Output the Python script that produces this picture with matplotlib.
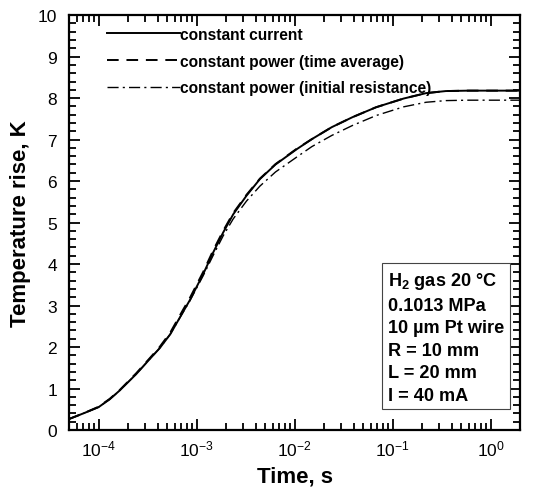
import matplotlib
matplotlib.use("Agg")
import matplotlib.pyplot as plt
import numpy as np
from matplotlib.ticker import LogLocator, MultipleLocator, NullFormatter

plt.rcParams['font.family'] = ['Liberation Sans', 'DejaVu Sans']
plt.rcParams['mathtext.fontset'] = 'custom'
plt.rcParams['mathtext.rm'] = 'Liberation Sans'
plt.rcParams['mathtext.bf'] = 'Liberation Sans:bold'
plt.rcParams['mathtext.it'] = 'Liberation Sans:italic'

# time, s
t = [5e-5, 7e-5, 1e-4, 1.3e-4, 1.64e-4, 2.43e-4, 3.33e-4, 4.2e-4, 5.4e-4, 7.3e-4,
     8.5e-4, 1.17e-3, 1.48e-3, 1.87e-3, 2.37e-3, 3.24e-3, 4.44e-3, 6.4e-3,
     1.04e-2, 1.5e-2, 2.4e-2, 3.9e-2, 6.8e-2, 0.13, 0.22, 0.35, 0.6, 1.0, 2.0]
# constant current
T_cc = [0.265, 0.40, 0.55, 0.74, 0.95, 1.35, 1.71, 1.97, 2.31, 2.85,
        3.12, 3.76, 4.28, 4.76, 5.20, 5.65, 6.05, 6.40,
        6.76, 7.01, 7.30, 7.54, 7.78, 7.99, 8.12, 8.17, 8.18, 8.18, 8.18]
# constant power (time average)
T_ta = [0.265, 0.40, 0.56, 0.75, 0.96, 1.37, 1.73, 2.00, 2.35, 2.90,
        3.17, 3.81, 4.33, 4.80, 5.23, 5.67, 6.06, 6.41,
        6.77, 7.01, 7.30, 7.54, 7.78, 7.99, 8.12, 8.17, 8.18, 8.18, 8.18]
# constant power (initial resistance)
T_ir = [0.265, 0.40, 0.55, 0.74, 0.95, 1.35, 1.71, 1.97, 2.31, 2.84,
        3.10, 3.72, 4.21, 4.68, 5.09, 5.52, 5.88, 6.22,
        6.57, 6.83, 7.10, 7.34, 7.58, 7.79, 7.90, 7.94, 7.95, 7.95, 7.95]

labels = ['constant current', 'constant power (time average)',
          'constant power (initial resistance)']

info_lines = ['H$_{\\mathbf{2}}$ gas 20 \u00b0C', '0.1013 MPa', '10 \u00b5m Pt wire',
              'R = 10 mm', 'L = 20 mm', 'I = 40 mA']

fig = plt.figure(figsize=(5.35, 4.89), dpi=100)
ax = fig.add_axes([0.129, 0.1186, 0.843, 0.8484])

ax.plot(t, T_cc, color='black', lw=1.4, ls='-', label=labels[0],
        solid_joinstyle='round')
ax.plot(t, T_ta, color='black', lw=1.4, ls=(0, (6, 4)), label=labels[1],
        dash_joinstyle='round')
ax.plot(t, T_ir, color='black', lw=1.0, ls=(0, (8, 3, 1.5, 3)), label=labels[2])

ax.set_xscale('log')
ax.set_xlim(5e-5, 2)
ax.set_ylim(0, 10)
ax.yaxis.set_major_locator(MultipleLocator(1))
ax.yaxis.set_minor_locator(MultipleLocator(0.2))
ax.xaxis.set_major_locator(LogLocator(base=10, numticks=20))
ax.xaxis.set_minor_locator(LogLocator(base=10, subs=np.arange(2, 10), numticks=20))
ax.xaxis.set_minor_formatter(NullFormatter())

ax.tick_params(which='both', direction='in', top=True, right=True, width=1.3,
               labelsize=12.5)
ax.tick_params(which='major', length=8)
ax.tick_params(which='minor', length=5)
ax.tick_params(axis='x', pad=6)
ax.tick_params(axis='y', pad=8.5)
for s in ax.spines.values():
    s.set_linewidth(1.6)

ax.set_xlabel('Time, s', fontsize=16, fontweight='bold', labelpad=5)
ax.set_ylabel('Temperature rise, K', fontsize=16, fontweight='bold', labelpad=5)

leg = ax.legend(loc='upper left', bbox_to_anchor=(0.084, 0.972), frameon=False,
                handlelength=4.7, handletextpad=0.0, labelspacing=0.76,
                borderpad=0, borderaxespad=0,
                prop={'family': 'Liberation Sans', 'weight': 'bold', 'size': 11.2})

ax.text(0.707, 0.385, '\n'.join(info_lines), transform=ax.transAxes,
        fontsize=13.1, fontweight='bold', linespacing=1.42, va='top', ha='left',
        bbox=dict(boxstyle='square,pad=0.3', fc='white', ec='#444444', lw=0.8))

fig.savefig('out.png', dpi=100)
